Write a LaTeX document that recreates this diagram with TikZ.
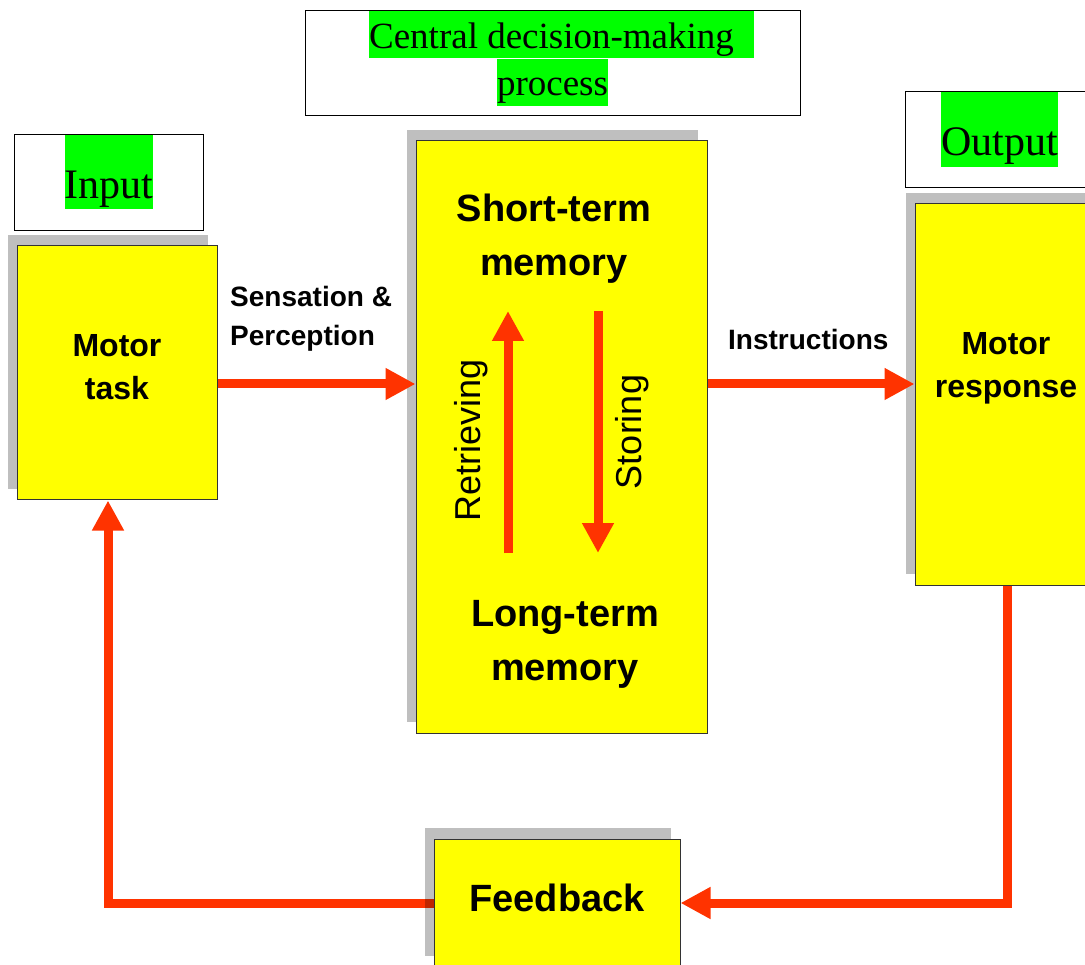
\documentclass[tikz,border=0pt]{standalone}
\usepackage{fontspec}
\setmainfont{Liberation Serif}
\setsansfont{Liberation Sans}
\usetikzlibrary{arrows.meta,shadows,backgrounds}
\definecolor{hl}{RGB}{0,255,0}
\definecolor{yel}{RGB}{255,255,0}
\definecolor{arrred}{RGB}{255,51,0}
\begin{document}
\begin{tikzpicture}[x=1pt,y=-1pt,
  ybox/.style={draw=black!80, line width=1pt, fill=yel, inner sep=0pt, align=center,
    font=\sffamily\bfseries\fontsize{32}{43}\selectfont,
    drop shadow={shadow xshift=-9pt, shadow yshift=11pt, fill=black, opacity=0.25}},
  wbox/.style={draw=black, line width=1pt, fill=white, inner sep=0pt},
  hlt/.style={fill=hl, inner sep=0pt, anchor=base, font=\fontsize{42}{48}\selectfont},
  conn/.style={draw=arrred, line width=9pt, -{Triangle[length=30pt,width=30pt]}},
  memtxt/.style={font=\sffamily\bfseries\fontsize{38}{54}\selectfont, align=center, inner sep=0pt},
  vtxt/.style={font=\sffamily\fontsize{36}{40}\selectfont, inner sep=0pt, rotate=90, anchor=base},
  lbl/.style={font=\sffamily\bfseries\fontsize{28}{39}\selectfont, align=left, inner sep=0pt},
]
\useasboundingbox (0,0) rectangle (1085,965);
\clip (0,0) rectangle (1085,965);

% title boxes
\node[wbox, minimum width=495pt, minimum height=105pt] (cbox) at (552.5,63.5) {};
\node[hlt, text height=38pt, text depth=9pt,
      font=\fontsize{37}{44}\selectfont] (c1) at (561.5,49) {Central decision-making\kern20pt};
\node[hlt, text height=37pt, text depth=10pt, font=\fontsize{37}{44}\selectfont] (c2) at (552.5,96) {process};

\node[wbox, minimum width=189pt, minimum height=96pt] (ibox) at (108.5,183) {};
\node[hlt, text height=64pt, text depth=10pt] (ilab) at (109,199) {Input};

\node[wbox, minimum width=200pt, minimum height=96pt] (obox) at (1005,140) {};
\node[hlt, text height=64pt, text depth=11pt] (olab) at (999.5,156) {Output};

% yellow boxes
\node[ybox, minimum width=200pt, minimum height=254pt, text depth=12pt] (mt) at (117,373) {Motor\\task};
\node[ybox, minimum width=291pt, minimum height=592pt] (cdm) at (561.5,437) {};
\node[ybox, minimum width=182pt, minimum height=381pt, text depth=59pt] (mr) at (1006,394.5) {Motor\\response};
\node[ybox, minimum width=246pt, minimum height=128pt, text depth=11pt,
      font=\sffamily\bfseries\fontsize{38}{44}\selectfont] (fb) at (557,903) {Feedback};

% texts inside central box
\node[memtxt] (stm) at (554,239) {Short-term\\memory};
\node[memtxt] (ltm) at (565,644) {Long-term\\memory};
\node[vtxt] (ret) at (480,440) {Retrieving};
\node[vtxt] (sto) at (641,432) {Storing};

% labels
\node[lbl, anchor=north west] (sens) at (230,286) {Sensation \&\\Perception};
\node[lbl, anchor=base west] (instr) at (728,350) {Instructions};

% coordinates
\coordinate (rowA) at (0,384);
\coordinate (colL) at (108,0);
\coordinate (colR) at (1007,0);
\coordinate (ret1) at (508,553);
\coordinate (ret2) at (508,311);
\coordinate (sto1) at (598,311);
\coordinate (sto2) at (598,553);

% connectors
\draw[conn] (mt.east |- rowA) -- (cdm.west |- rowA);
\draw[conn] (cdm.east |- rowA) -- (mr.west |- rowA);
\draw[conn] (ret1) -- (ret2);
\draw[conn] (sto1) -- (sto2);
\draw[conn] (colR |- mr.south) |- (fb.east);
\begin{pgfonlayer}{background}
\draw[conn] (fb.west) -| (colL |- mt.south);
\end{pgfonlayer}
\end{tikzpicture}
\end{document}
